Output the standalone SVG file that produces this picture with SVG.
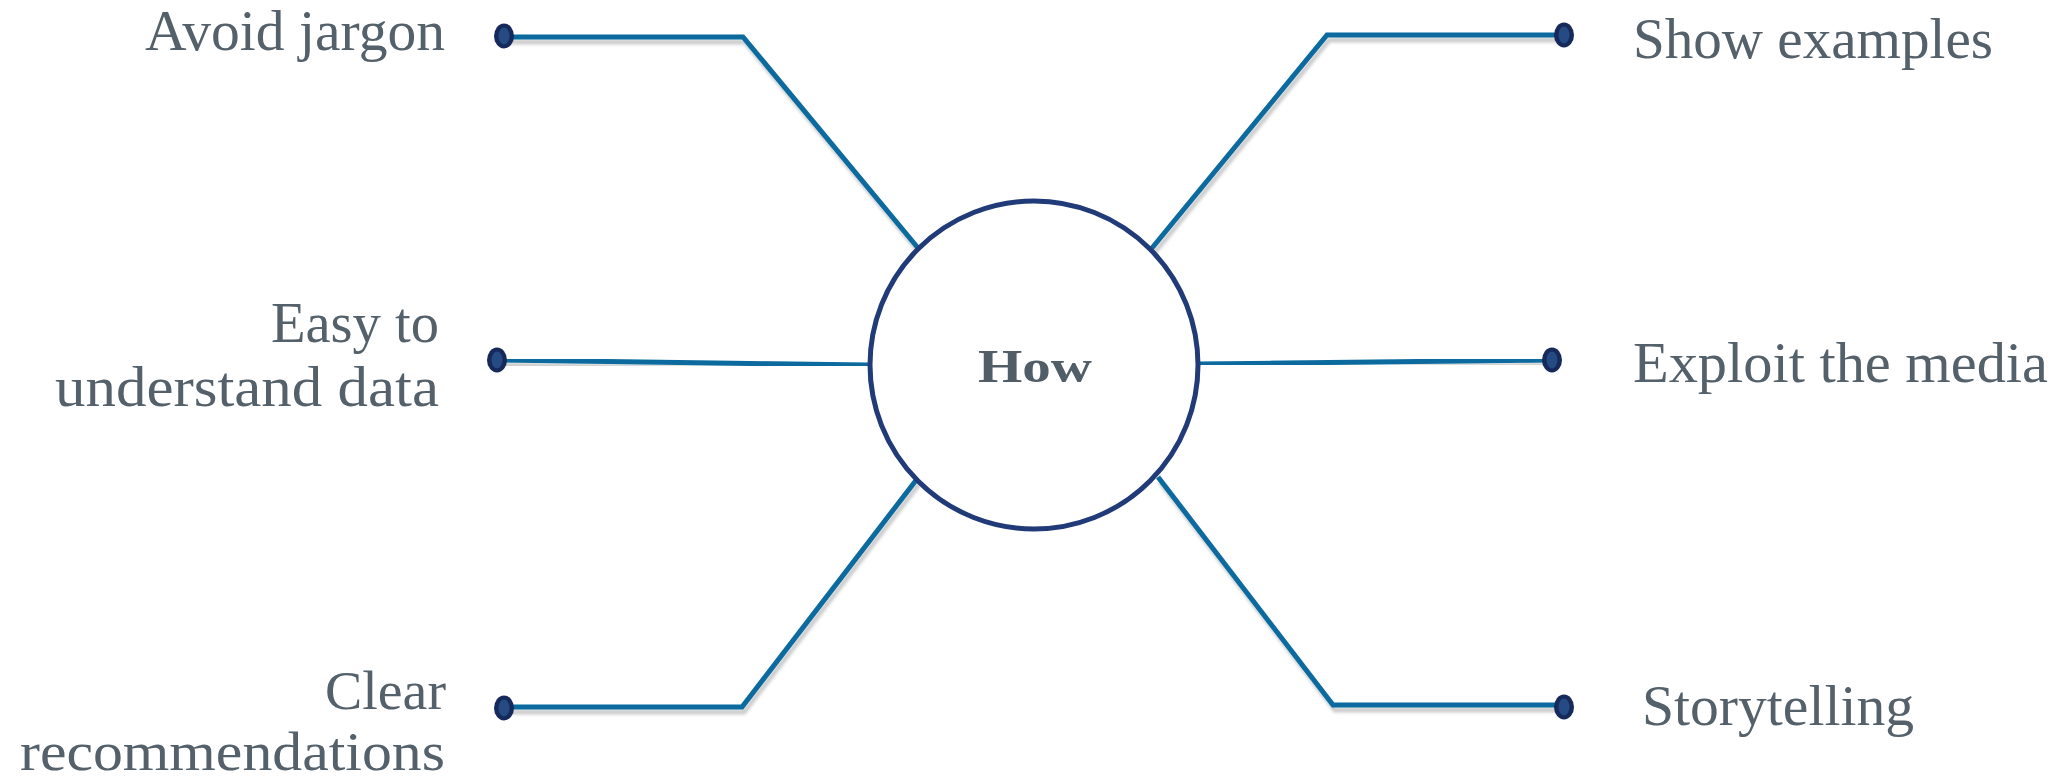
<svg xmlns="http://www.w3.org/2000/svg" width="2063" height="782" viewBox="0 0 2063 782">
  <defs>
    <filter id="shadow" x="-10%" y="-10%" width="120%" height="130%">
      <feDropShadow dx="2" dy="5" stdDeviation="1.5" flood-color="#000000" flood-opacity="0.2"/>
    </filter>
  </defs>
  <style>
    .conn { fill: none; stroke: #0a6b9e; stroke-width: 5; stroke-linejoin: miter; filter: url(#shadow); }
    .dot-outer { fill: #16295a; }
    .dot-inner { fill: #264a84; }
    .lbl { font-family: "Liberation Serif", "Times New Roman", serif; font-size: 57px; fill: #55616a; }
    .lbl-sm { font-size: 55px; }
    .hub { fill: #ffffff; stroke: #213a78; stroke-width: 5; }
    .hub-lbl { font-family: "Liberation Serif", "Times New Roman", serif; font-size: 47px; font-weight: bold; fill: #525e67; }
  </style>
  <rect width="2063" height="782" fill="#ffffff"/>

  <g id="connectors">
    <polyline class="conn" points="505,37 743,37 918,248"/>
    <polyline class="conn" points="1152,248 1327,35 1563,35"/>
    <polyline class="conn" points="497,360 868,365"/>
    <polyline class="conn" points="1200,364 1552,360"/>
    <polyline class="conn" points="504,707 742,707 917,479"/>
    <polyline class="conn" points="1158,477 1333,705 1564,705"/>
  </g>

  <g id="node-how">
    <circle class="hub" cx="1034" cy="365" r="164"/>
    <text class="hub-lbl" x="978" y="382" textLength="114" lengthAdjust="spacingAndGlyphs">How</text>
  </g>

  <g id="node-avoid-jargon">
    <ellipse class="dot-outer" cx="504" cy="36" rx="10" ry="12.5"/>
    <ellipse class="dot-inner" cx="504" cy="36" rx="5.5" ry="8.5"/>
    <text class="lbl" x="145" y="50" textLength="300" lengthAdjust="spacingAndGlyphs">Avoid jargon</text>
  </g>

  <g id="node-easy-data">
    <ellipse class="dot-outer" cx="497" cy="360" rx="10" ry="12.5"/>
    <ellipse class="dot-inner" cx="497" cy="360" rx="5.5" ry="8.5"/>
    <text class="lbl" x="271" y="342" textLength="168" lengthAdjust="spacingAndGlyphs">Easy to</text>
    <text class="lbl" x="55" y="406" textLength="384" lengthAdjust="spacingAndGlyphs">understand data</text>
  </g>

  <g id="node-clear-recs">
    <ellipse class="dot-outer" cx="504" cy="708" rx="10" ry="12.5"/>
    <ellipse class="dot-inner" cx="504" cy="708" rx="5.5" ry="8.5"/>
    <text class="lbl lbl-sm" x="325" y="709" textLength="121" lengthAdjust="spacingAndGlyphs">Clear</text>
    <text class="lbl lbl-sm" x="20" y="770" textLength="425" lengthAdjust="spacingAndGlyphs">recommendations</text>
  </g>

  <g id="node-show-examples">
    <ellipse class="dot-outer" cx="1564" cy="35" rx="10" ry="12.5"/>
    <ellipse class="dot-inner" cx="1564" cy="35" rx="5.5" ry="8.5"/>
    <text class="lbl" x="1633" y="58" textLength="360" lengthAdjust="spacingAndGlyphs">Show examples</text>
  </g>

  <g id="node-exploit-media">
    <ellipse class="dot-outer" cx="1552" cy="360" rx="10" ry="12.5"/>
    <ellipse class="dot-inner" cx="1552" cy="360" rx="5.5" ry="8.5"/>
    <text class="lbl" x="1633" y="382" textLength="415" lengthAdjust="spacingAndGlyphs">Exploit the media</text>
  </g>

  <g id="node-storytelling">
    <ellipse class="dot-outer" cx="1564" cy="707" rx="10" ry="12.5"/>
    <ellipse class="dot-inner" cx="1564" cy="707" rx="5.5" ry="8.5"/>
    <text class="lbl" x="1642" y="725" textLength="272" lengthAdjust="spacingAndGlyphs">Storytelling</text>
  </g>
</svg>
